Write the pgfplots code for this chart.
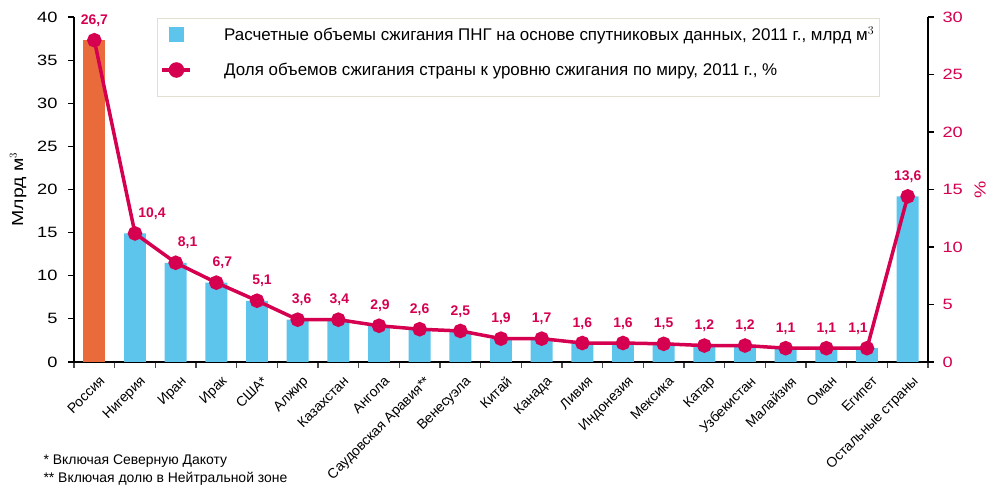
\documentclass[border=0pt]{standalone}
\usepackage{fontspec}
\setmainfont{Liberation Sans}
\newfontfamily\wide{Liberation Sans}[FakeStretch=1.22]
\usepackage{pgfplots}
\usepackage{pgfplotstable}
\pgfplotsset{compat=1.18}
\definecolor{barblue}{HTML}{5DC4EC}
\definecolor{rusorange}{HTML}{E96A3B}
\definecolor{crim}{HTML}{D5004F}
\definecolor{legbord}{HTML}{E2DFCF}

\pgfplotstableread{
x bar
1 14.9
2 11.5
3 9.2
4 7.1
5 4.9
6 4.9
7 4.2
8 3.8
9 3.6
10 2.7
11 2.7
12 2.2
13 2.2
14 2.1
15 1.9
16 1.9
17 1.6
18 1.6
19 1.6
20 19.2
}\bardata

\pgfplotstableread{
x y lab dx
0 27.98 26,7 0
1 11.18 10,4 17
2 8.63 8,1 12
3 6.90 6,7 6
4 5.33 5,1 5
5 3.68 3,6 4
6 3.68 3,4 1
7 3.15 2,9 1
8 2.85 2,6 0
9 2.70 2,5 0
10 2.03 1,9 0
11 2.03 1,7 0
12 1.65 1,6 0
13 1.65 1,6 0
14 1.58 1,5 0
15 1.43 1,2 0
16 1.43 1,2 0
17 1.20 1,1 0
18 1.20 1,1 0
19 1.20 1,1 -9
20 14.40 13,6 0
}\linedata

\begin{document}
\begin{tikzpicture}[x=1bp,y=1bp]
\useasboundingbox (0,0) rectangle (991,488);
\pgfplotsset{
  common/.style={
    scale only axis, width=854bp, height=345bp,
    at={(74bp,126bp)}, anchor=south west,
    xmin=-0.5, xmax=20.5,
    /pgf/number format/assume math mode=true,
    tick align=outside, major tick length=6bp,
    tick label style={font=\wide\fontsize{15}{15}\selectfont},
  }
}
\begin{axis}[common,
  ymin=0, ymax=40, ytick={0,5,...,40},
  axis y line*=left, axis x line*=bottom,
  x axis line style={line width=2.2bp, black},
  y axis line style={line width=1.3bp, black},
  xtick={-0.5,0.5,...,20.5}, xticklabels={},
  x tick style={line width=1.2bp, black!70},
  y tick style={line width=1.2bp, black},
  yticklabel style={xshift=-7bp},
  extra x ticks={0,1,...,20},
  extra x tick labels={Россия,Нигерия,Иран,Ирак,США*,Алжир,Казахстан,Ангола,Саудовская Аравия**,Венесуэла,Китай,Канада,Ливия,Индонезия,Мексика,Катар,Узбекистан,Малайзия,Оман,Египет,Остальные страны},
  extra x tick style={tick style={draw=none}, tick label style={rotate=45, anchor=north east, font=\fontsize{14}{14}\selectfont, inner sep=1bp, yshift=-7bp, xshift=-1bp}},
  ylabel={Млрд м$^3$},
  ylabel shift=4bp,
  ylabel style={font=\wide\fontsize{16}{16}\selectfont},
]
\addplot[ybar, bar width=0.54, bar shift=0pt, fill=barblue, draw=none] table[x=x,y=bar]{\bardata};
\addplot[ybar, bar width=0.54, bar shift=0pt, fill=rusorange, draw=none] coordinates {(0,37.3)};
\end{axis}
\begin{axis}[common,
  ymin=0, ymax=30, ytick={0,5,...,30},
  axis y line*=right, axis x line=none,
  y axis line style={line width=1.3bp, black},
  y tick style={line width=1.2bp, black},
  yticklabel style={text=crim, xshift=5bp},
  ylabel={\%},
  ylabel shift=5bp,
  ylabel style={font=\wide\fontsize{16}{16}\selectfont, text=crim},
  legend style={at={(0.097,0.997)}, anchor=north west, draw=legbord, line width=1.2bp,
    font=\fontsize{17}{17}\selectfont, inner xsep=3bp, inner ysep=6bp, row sep=17bp},
  legend cell align=left,
]
\addlegendimage{legend image code/.code={
  \fill[barblue] (7bp,-7bp) rectangle (21bp,7bp);
  \path (0bp,0bp) (58bp,0bp);}}
\addlegendentry{Расчетные объемы сжигания ПНГ на основе спутниковых данных, 2011 г., млрд м$^3$\hspace{12bp}}
\addplot[crim, line width=3.5bp, mark=*, mark size=5.5bp,
  legend image code/.code={
    \draw[crim, line width=4bp] (0bp,0bp) -- (28bp,0bp);
    \fill[crim] (14bp,0bp) circle (6bp);
    \path (0bp,-19bp) (58bp,0bp);},
  nodes near coords, point meta=explicit symbolic,
  visualization depends on={\thisrow{dx} \as \dx},
  every node near coord/.append style={font=\bfseries\fontsize{14}{14}\selectfont, text=crim, anchor=south, yshift=11bp, xshift=\dx, inner sep=1bp}]
  table[x=x,y=y,meta=lab]{\linedata};
\addlegendentry{Доля объемов сжигания страны к уровню сжигания по миру, 2011 г., \%}
\end{axis}
\node[anchor=base west, font=\fontsize{14}{14}\selectfont] at (40,23) {* Включая Северную Дакоту};
\node[anchor=base west, font=\fontsize{14}{14}\selectfont] at (40,5) {** Включая долю в Нейтральной зоне};
\end{tikzpicture}
\end{document}
